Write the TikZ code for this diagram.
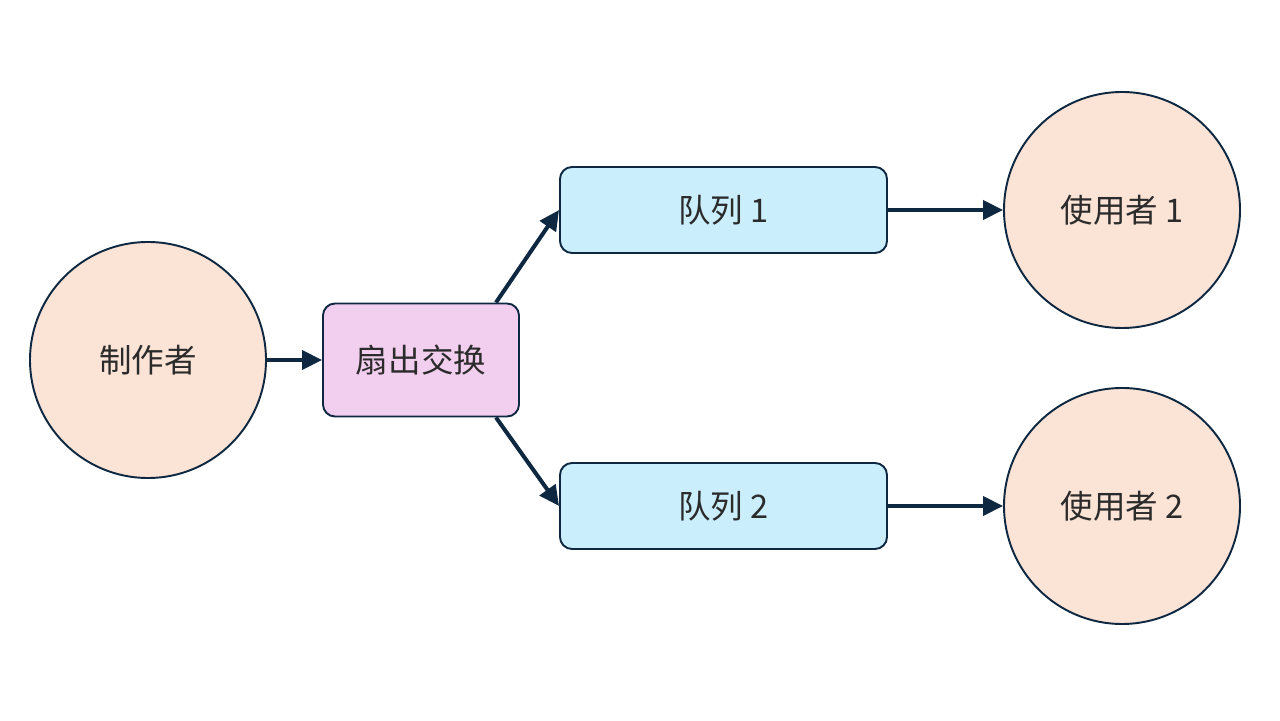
\documentclass[tikz,border=0pt]{standalone}
\usepackage{fontspec}
\setmainfont{Noto Sans CJK SC}
\usetikzlibrary{arrows.meta}
\definecolor{inkline}{HTML}{0E2841}
\definecolor{inktext}{HTML}{2B2B2B}
\definecolor{peach}{HTML}{FBE3D6}
\definecolor{orchid}{HTML}{F2CEEF}
\definecolor{skyblue}{HTML}{CAEEFB}
\tikzset{
    actor/.style={draw=inkline, line width=1.1pt, fill=peach, circle,
        minimum size=4.72cm, inner sep=0pt, text=inktext},
    exch/.style={draw=inkline, line width=1.1pt, fill=orchid, rounded corners=0.24cm,
        minimum width=3.92cm, minimum height=2.26cm, text=inktext},
    queue/.style={draw=inkline, line width=1.1pt, fill=skyblue, rounded corners=0.24cm,
        minimum width=6.54cm, minimum height=1.72cm, text=inktext},
    flow/.style={draw=inkline, line width=2.3pt,
        -{Triangle[length=0.4cm, width=0.38cm]}}
}
\begin{document}
\begin{tikzpicture}[font=\fontsize{18.5}{22}\selectfont]
    \useasboundingbox (0,0) rectangle (25.6,14.4);
    \node[actor] (prod) at (2.96, 7.2) {制作者};
    \node[exch] (fan) at (8.42, 7.2) {扇出交换};
    \node[queue] (q1) at (14.47, 10.2) {队列 1};
    \node[queue] (q2) at (14.47, 4.28) {队列 2};
    \node[actor] (c1) at (22.44, 10.2) {使用者 1};
    \node[actor] (c2) at (22.44, 4.28) {使用者 2};
    \draw[flow] (prod) -- (fan);
    \draw[flow] ([xshift=-0.48cm]fan.north east) -- (q1.west);
    \draw[flow] ([xshift=-0.48cm]fan.south east) -- (q2.west);
    \draw[flow] (q1) -- (c1);
    \draw[flow] (q2) -- (c2);
\end{tikzpicture}
\end{document}
